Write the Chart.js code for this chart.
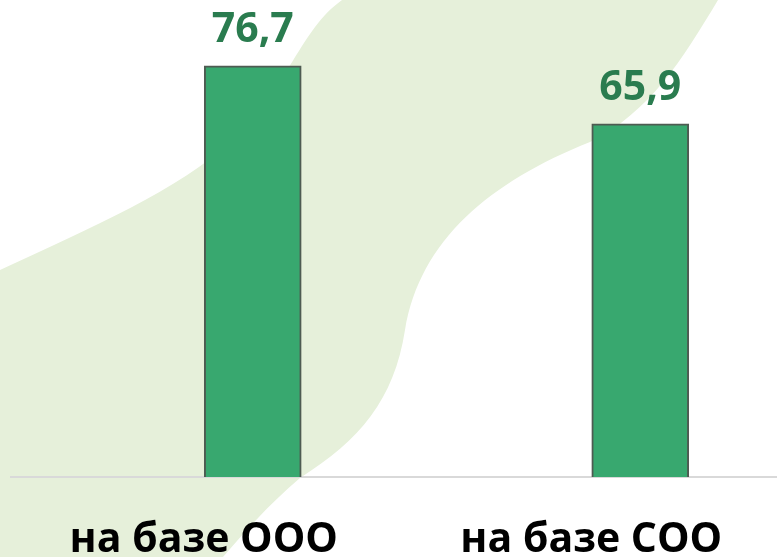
<!DOCTYPE html>
<html lang="ru">
<head>
  <meta charset="UTF-8">
  <script src="https://cdn.jsdelivr.net/npm/chart.js"></script>
  <title>Chart</title>
  <style>
    html, body { margin: 0; padding: 0; overflow: hidden; background: #fff; }
    #box { width: 840px; height: 557px; }
  </style>
</head>
<body>
  <div id="box">
    <canvas id="myChart" width="840" height="557"></canvas>
  </div>
<script>
  var categorias = ["на базе ООО", "на базе СОО"]
  var valores = [76.7, 65.9]
  var rotulos = ["76,7", "65,9"]

  // fundo verde claro (forma decorativa)
  const fundo = {
    id: "fundo",
    beforeDraw(chart) {
      const c = chart.ctx
      c.save()
      c.fillStyle = "#E6F0DA"
      c.beginPath()
      c.moveTo(0, 270)
      c.bezierCurveTo(90, 228, 180, 190, 232, 140)
      c.bezierCurveTo(290, 85, 300, 30, 342, 0)
      c.lineTo(718, 0)
      c.bezierCurveTo(682, 60, 650, 112, 590, 142)
      c.bezierCurveTo(490, 182, 420, 240, 405, 330)
      c.bezierCurveTo(394, 400, 360, 440, 300, 478)
      c.bezierCurveTo(268, 505, 242, 535, 223, 557)
      c.lineTo(0, 557)
      c.closePath()
      c.fill()
      c.restore()
    },
    beforeDatasetsDraw(chart) {
      const c = chart.ctx
      const y = chart.scales.y.getPixelForValue(0)
      c.save()
      c.strokeStyle = "#D9D9D9"
      c.lineWidth = 2
      c.beginPath()
      c.moveTo(10, y)
      c.lineTo(777, y)
      c.stroke()
      c.restore()
    },
    afterDatasetsDraw(chart) {
      const c = chart.ctx
      const meta = chart.getDatasetMeta(0)
      c.save()
      c.fillStyle = "#2A7C4F"
      c.font = "bold 41px 'Open Sans'"
      c.textAlign = "center"
      c.textBaseline = "alphabetic"
      meta.data.forEach((bar, i) => {
        c.fillText(rotulos[i], bar.x, bar.y - 24)
      })
      c.restore()
    }
  }

  const ctx = document.getElementById("myChart")
  const myChart = new Chart(ctx, {
    type: "bar",
    data: {
      labels: categorias,
      datasets: [{
        data: valores,
        backgroundColor: "#38A86F",
        borderColor: "#4E5B52",
        borderWidth: 2,
        barThickness: 97,
      }],
    },
    options: {
      responsive: false,
      animation: false,
      layout: { padding: { left: 59, right: 6, top: 0, bottom: 0 } },
      plugins: { legend: { display: false }, tooltip: { enabled: false } },
      scales: {
        x: {
          grid: { display: false, drawTicks: false },
          border: { display: false },
          ticks: {
            color: "#000",
            font: { family: "'Open Sans'", weight: "bold", size: 41 },
            padding: 39,
            labelOffset: -49,
            maxRotation: 0,
          },
          afterFit(scale) { scale.height = 80 },
        },
        y: {
          display: false,
          min: 0,
          max: 89,
        },
      },
    },
    plugins: [fundo],
  })
</script>
</body>
</html>
